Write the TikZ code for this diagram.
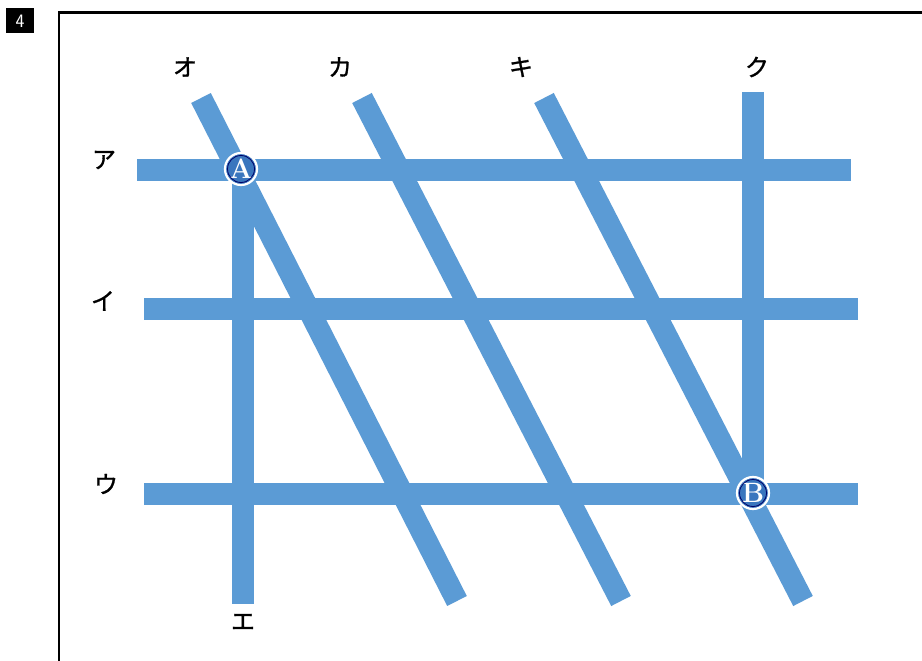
\documentclass[tikz,border=0pt]{standalone}
\usepackage{fontspec}
\newfontfamily\jp[FakeBold=1.2]{Noto Sans CJK JP}
\definecolor{bar}{HTML}{5B9BD5}
\definecolor{markfill}{HTML}{3A76BE}
\begin{document}
\begin{tikzpicture}[x=1pt,y=-1pt,
  barline/.style={draw=bar,line width=22pt,line cap=butt},
  lab/.style={font=\jp\fontsize{24}{24}\selectfont,text=black,inner sep=0pt},
  circmark/.style={circle,fill=markfill,draw=white,line width=2.2pt,minimum size=32pt,inner sep=0pt,
    text=white,font=\fontsize{28}{28}\selectfont\rmfamily\bfseries}]
\useasboundingbox (0,0) rectangle (922,661);
\fill[white] (0,0) rectangle (922,661);
% number tag
\node[fill=black,minimum width=28pt,minimum height=25pt,inner sep=0pt,text=white,font=\sffamily\fontsize{19}{19}\selectfont] (tag) at (20,21) {4};
% frame
\begin{scope}
\clip (0,0) rectangle (922,661);
\draw[line width=2.6pt] (59,700) -- (59,12.5) -- (960,12.5);
\end{scope}
% coordinates
\coordinate (a1) at (137,170); \coordinate (a2) at (851,170);
\coordinate (i1) at (144,309); \coordinate (i2) at (858,309);
\coordinate (u1) at (144,494); \coordinate (u2) at (858,494);
\coordinate (e1) at (243,160); \coordinate (e2) at (243,604);
\coordinate (k1) at (753,92); \coordinate (k2) at (753,494);
\coordinate (o1) at (201,98); \coordinate (o2) at (457,601);
\coordinate (ka1) at (362,98); \coordinate (ka2) at (621,601);
\coordinate (ki1) at (544,98); \coordinate (ki2) at (803,601);
% bars
\draw[barline] (a1) -- (a2);
\draw[barline] (i1) -- (i2);
\draw[barline] (u1) -- (u2);
\draw[barline] (e1) -- (e2);
\draw[barline] (k1) -- (k2);
\draw[barline] (o1) -- (o2);
\draw[barline] (ka1) -- (ka2);
\draw[barline] (ki1) -- (ki2);
% labels
\node[lab] (lo) at (185,67) {オ};
\node[lab] (lka) at (340,67) {カ};
\node[lab] (lki) at (521,67) {キ};
\node[lab] (lku) at (757,67) {ク};
\node[lab] (la) at (104,160) {ア};
\node[lab] (li) at (103,301) {イ};
\node[lab] (lu) at (106,484) {ウ};
\node[lab] (le) at (243,622) {エ};
% marks
\node[circmark] (A) at (241,169) {A};
\draw[black!60!blue,line width=0.8pt] (A.center) circle (13.5pt);
\node[circmark] (B) at (753,493) {B};
\draw[black!60!blue,line width=0.8pt] (B.center) circle (13.5pt);
\end{tikzpicture}
\end{document}
